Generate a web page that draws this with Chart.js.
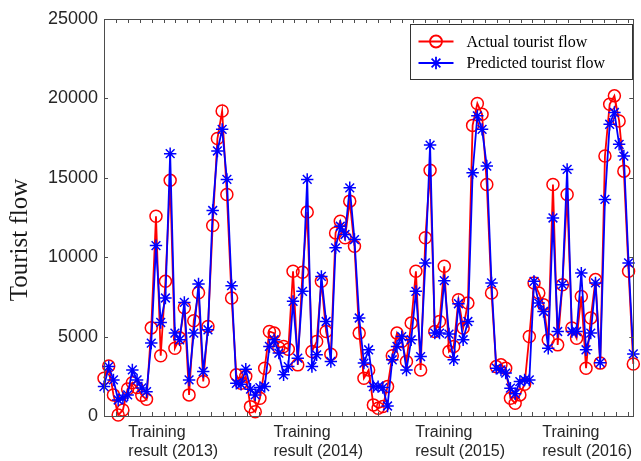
<!DOCTYPE html>
<html><head><meta charset="utf-8">
<script src="https://cdn.jsdelivr.net/npm/chart.js@4.4.1/dist/chart.umd.min.js"></script>
<style>html,body{margin:0;padding:0;background:#fff;overflow:hidden}#wrap{width:641px;height:461px}</style>
</head><body><div id="wrap"><canvas id="c" width="641" height="461"></canvas></div>
<script>
const actualFlow = [
 2380,3150,1330,60,380,1700,2100,1800,1300,1050,5550,12580,3790,8480,14840,4270,4920,6820,1330,6000,7760,2170,5640,12000,17470,19210,13950,7430,2590,2060,
 2500,590,270,1120,3010,5320,5220,4300,4380,4200,9110,3220,9050,12840,4060,4690,8480,5320,3890,11530,12270,11220,13530,10690,5220,
 2380,2900,700,490,600,1850,3790,5220,4690,3430,5850,9110,2900,11220,15470,5320,5950,9430,4060,4380,7320,5540,7110,18300,19680,
 19000,14580,7750,3110,3220,3000,1120,800,1330,2000,5010,8380,7750,7010,4800,14580,4480,8270,13950,5540,4900,7530,3010,6170,8590,3330,16370,19630,20160,18580,15420,9110,3280
];
const predictedFlow = [
 1850,3110,2270,1010,1140,1330,2900,2270,1770,1530,4590,10730,5890,7430,16520,5220,4800,7150,2270,5220,8310,2800,5430,12940,16690,18050,14900,8210,2060,2000,
 2950,1690,1330,1790,1850,4380,4800,3960,2590,3110,7220,3640,7850,14900,3110,3850,8790,5950,3430,10590,11950,11430,14370,11110,6170,
 3330,4170,1850,1850,1790,630,3540,4380,5000,2900,4800,7850,3740,9640,17060,5220,5220,8520,5160,3540,7070,4800,5950,15320,18900,
 18050,15740,8380,3010,2900,2700,1750,1400,2170,2270,2270,8480,7110,6580,4270,12470,5320,8270,15530,5320,5320,9000,4170,5220,8380,3360,13640,18370,19110,17110,16370,9640,3910
];
const seriesNames = ['Actual tourist flow', 'Predicted tourist flow'];
const yearLabels = [['Training','result (2013)'],['Training','result (2014)'],['Training','result (2015)'],['Training','result (2016)']];
const yTickValues = [0, 5000, 10000, 15000, 20000, 25000];
const yTitle = 'Tourist flow';

const N = actualFlow.length;
const lastIdx = N - 1;
// label anchor positions expressed as fraction of the x range
const labelFrac = [0.046, 0.320, 0.588, 0.828];
const minorStepPx = 11.9;

const framePlugin = {
  id: 'frame',
  afterDraw(chart) {
    const ctx = chart.ctx, a = chart.chartArea;
    const xs = chart.scales.x, ys = chart.scales.y;
    ctx.save();
    ctx.strokeStyle = '#4d4d4d';
    ctx.lineWidth = 1;
    ctx.strokeRect(Math.round(a.left) + 0.5, Math.round(a.top) + 0.5, Math.round(a.right - a.left), Math.round(a.bottom - a.top));
    const unit = (xs.getPixelForValue(1) - xs.getPixelForValue(0));
    const step = minorStepPx / unit;
    ctx.beginPath();
    for (let v = step; v < lastIdx; v += step) {
      const px = Math.round(xs.getPixelForValue(v)) + 0.5;
      ctx.moveTo(px, a.bottom); ctx.lineTo(px, a.bottom - 4);
      ctx.moveTo(px, a.top); ctx.lineTo(px, a.top + 4);
    }
    for (const v of yTickValues) {
      const py = Math.round(ys.getPixelForValue(v)) + 0.5;
      ctx.moveTo(a.left, py); ctx.lineTo(a.left + 4, py);
      ctx.moveTo(a.right, py); ctx.lineTo(a.right - 4, py);
    }
    ctx.stroke();

    ctx.save();
    ctx.translate(20, 240);
    ctx.rotate(-Math.PI / 2);
    ctx.font = '25px "Liberation Serif"';
    ctx.fillStyle = '#1a1a1a';
    ctx.textAlign = 'center';
    ctx.textBaseline = 'middle';
    ctx.fillText(yTitle, 0, 0);
    ctx.restore();

    const bw = 222, bh = 55;
    const bx = Math.round(a.right) - bw - 1 + 0.5, by = Math.round(a.top) + 5 + 0.5;
    ctx.fillStyle = '#fff';
    ctx.fillRect(bx, by, bw, bh);
    ctx.strokeStyle = '#333';
    ctx.lineWidth = 1;
    ctx.strokeRect(bx, by, bw, bh);
    chart.data.datasets.forEach((ds, i) => {
      const cy = by + 17 + i * 21.5;
      ctx.strokeStyle = ds.borderColor;
      ctx.lineWidth = ds.borderWidth;
      ctx.beginPath();
      ctx.moveTo(bx + 8, cy); ctx.lineTo(bx + 43, cy);
      ctx.stroke();
      ctx.fillStyle = 'rgba(0,0,0,0)';
      Chart.helpers.drawPoint(ctx, {pointStyle: ds.pointStyle, rotation: 0, radius: ds.pointRadius, borderWidth: ds.pointBorderWidth}, bx + 25.5, cy);
      ctx.fillStyle = '#000';
      ctx.font = '16px "Liberation Serif"';
      ctx.textAlign = 'left';
      ctx.textBaseline = 'middle';
      ctx.fillText(ds.label, bx + 56, cy + 1);
    });
    ctx.restore();
  }
};

new Chart(document.getElementById('c'), {
  type: 'line',
  data: {
    datasets: [
      {
        label: seriesNames[0],
        data: actualFlow.map((v, i) => ({x: i, y: v})),
        borderColor: '#ff0000', backgroundColor: 'rgba(0,0,0,0)',
        borderWidth: 1.8, pointStyle: 'circle', pointRadius: 6,
        pointBorderWidth: 1.5, pointBorderColor: '#ff0000', pointBackgroundColor: 'rgba(0,0,0,0)',
        tension: 0, order: 2, clip: false
      },
      {
        label: seriesNames[1],
        data: predictedFlow.map((v, i) => ({x: i, y: v})),
        borderColor: '#0000ff', backgroundColor: 'rgba(0,0,0,0)',
        borderWidth: 1.8, pointStyle: 'star', pointRadius: 6.2,
        pointBorderWidth: 1.5, pointBorderColor: '#0000ff', pointBackgroundColor: 'rgba(0,0,0,0)',
        tension: 0, order: 1, clip: false
      }
    ]
  },
  options: {
    responsive: false, animation: false, devicePixelRatio: 1,
    layout: {padding: {left: 0, right: 4, top: 19, bottom: 0}},
    plugins: {legend: {display: false}, tooltip: {enabled: false}},
    scales: {
      x: {
        type: 'linear', min: 0, max: lastIdx,
        grid: {display: false, drawTicks: false},
        border: {display: false},
        afterBuildTicks(s) { s.ticks = labelFrac.map(f => ({value: f * lastIdx})); },
        afterFit(s) { s.height = 45; },
        ticks: {
          autoSkip: false, maxRotation: 0, minRotation: 0, align: 'start', padding: 7,
          color: '#262626', font: {family: '"Liberation Sans"', size: 16},
          callback: (v, i) => yearLabels[i]
        }
      },
      y: {
        min: 0, max: 25000,
        grid: {display: false, drawTicks: false},
        border: {display: false},
        afterBuildTicks(s) { s.ticks = yTickValues.map(v => ({value: v})); },
        afterFit(s) { s.width = 104; },
        ticks: {
          padding: 6, color: '#262626', font: {family: '"Liberation Sans"', size: 18},
          callback: v => String(v)
        }
      }
    }
  },
  plugins: [framePlugin]
});
</script></body></html>
